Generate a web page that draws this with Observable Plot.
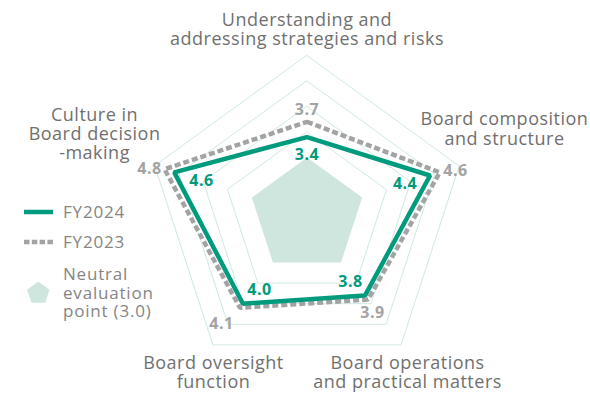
<!DOCTYPE html>
<html><head><meta charset="utf-8">
<script src="https://cdn.jsdelivr.net/npm/d3@7"></script>
<script src="https://cdn.jsdelivr.net/npm/@observablehq/plot@0.6"></script>
<style>
body{margin:0;background:#fff;}
#chart{position:relative;width:590px;height:395px;font-family:"Open Sans",sans-serif;}
#chart svg{display:block;}
#legend{position:absolute;left:0;top:0;pointer-events:none;}
</style></head><body><div id="chart"></div>
<script>
// ---- data ----
const categories = [
  "Understanding and\naddressing strategies and risks",
  "Board composition\nand structure",
  "Board operations\nand practical matters",
  "Board oversight\nfunction",
  "Culture in\nBoard decision\n-making"
];
const fy2024 = [3.4, 4.4, 3.8, 4.0, 4.6];
const fy2023 = [3.7, 4.6, 3.9, 4.1, 4.8];
const neutralValue = 3.0;
const gridLevels = [3.5, 4.0, 4.5, 5.0];
const seriesNames = ["FY2024", "FY2023"];
const neutralLabel = ["Neutral", "evaluation", "point (3.0)"];

// ---- layout (pixels) ----
const W = 590, H = 395, cx = 306.5, cy = 215, pxPerUnit = 51, base = 1.863;
const green = "#009b7d", gray = "#a3a3a3", gridColor = "#cfe9e1", neutralFill = "#cfe6de";
const catLabelOffset = [[0,-26.5],[45.3,-37.1],[6.5,27.1],[0.5,27.1],[-60.3,-32.3]];
const off2024 = [[0,17.4],[-25,8],[-14.6,-14],[16.6,-14.2],[27.3,9]];
const off2023 = [[0,-12.3],[15.7,-1],[4.4,13],[-18.4,15.7],[-15,-0.7]];

const ang = i => -Math.PI/2 + i*2*Math.PI/5;
const pt = (v, i) => ({x: (v - base)*Math.cos(ang(i)), y: -(v - base)*Math.sin(ang(i))});
const shift = (p, o) => ({x: p.x + o[0]/pxPerUnit, y: p.y - o[1]/pxPerUnit});

const grid = gridLevels.flatMap(l => categories.map((c, i) => ({level: l, ...pt(l, i)})));
const neutral = categories.map((c, i) => pt(neutralValue, i));
const s24 = fy2024.map((v, i) => ({v, ...pt(v, i)}));
const s23 = fy2023.map((v, i) => ({v, ...pt(v, i)}));
const lab24 = fy2024.map((v, i) => ({t: v.toFixed(1), ...shift(pt(v, i), off2024[i])}));
const lab23 = fy2023.map((v, i) => ({t: v.toFixed(1), ...shift(pt(v, i), off2023[i])}));
const catLabs = categories.map((c, i) => ({t: c, ...shift(pt(5, i), catLabelOffset[i])}));

const chart = Plot.plot({
  width: W, height: H,
  margin: 0,
  style: {fontFamily: "'Open Sans', sans-serif", background: "#fff"},
  x: {axis: null, domain: [-cx/pxPerUnit, (W - cx)/pxPerUnit]},
  y: {axis: null, domain: [-(H - cy)/pxPerUnit, cy/pxPerUnit]},
  marks: [
    Plot.line(neutral, {x: "x", y: "y", curve: "linear-closed", fill: neutralFill, stroke: "none"}),
    Plot.line(grid, {x: "x", y: "y", z: "level", curve: "linear-closed", stroke: gridColor, strokeWidth: 1}),
    Plot.line(s23, {x: "x", y: "y", curve: "linear-closed", stroke: gray, strokeWidth: 4.5, strokeDasharray: "6,3", strokeLinecap: "butt", strokeLinejoin: "miter"}),
    Plot.line(s24, {x: "x", y: "y", curve: "linear-closed", stroke: green, strokeWidth: 4.5, strokeLinecap: "butt", strokeLinejoin: "miter"}),
    Plot.text(lab23, {x: "x", y: "y", text: "t", fill: gray, fontSize: 16, fontWeight: 700, style: "letter-spacing:0.4px"}),
    Plot.text(lab24, {x: "x", y: "y", text: "t", fill: green, fontSize: 16, fontWeight: 700, style: "letter-spacing:0.4px"}),
    Plot.text(catLabs, {x: "x", y: "y", text: "t", fill: "#707070", fontSize: 18, lineHeight: 1.08, lineAnchor: "middle", textAnchor: "middle"})
  ]
});
d3.select(chart).selectAll("text").style("letter-spacing", "0.5px");
const root = document.getElementById("chart");
root.appendChild(chart);

// ---- legend ----
const leg = d3.select(root).append("svg").attr("id", "legend").attr("width", 200).attr("height", 340)
  .style("font-family", "'Open Sans', sans-serif").style("letter-spacing", "0.8px");
leg.append("line").attr("x1", 24).attr("x2", 53).attr("y1", 212).attr("y2", 212)
  .attr("stroke", green).attr("stroke-width", 4.5);
leg.append("text").attr("x", 63).attr("y", 218).attr("font-size", 17).attr("fill", "#858585").text(seriesNames[0]);
leg.append("line").attr("x1", 24).attr("x2", 53).attr("y1", 242).attr("y2", 242)
  .attr("stroke", gray).attr("stroke-width", 4.5).attr("stroke-dasharray", "5.5,2.3");
leg.append("text").attr("x", 63).attr("y", 248).attr("font-size", 17).attr("fill", "#858585").text(seriesNames[1]);
const R = 11.8, pcx = 38.3, pcy = 293.3;
leg.append("polygon").attr("fill", neutralFill)
  .attr("points", d3.range(5).map(i => [pcx + R*Math.cos(ang(i)), pcy + R*Math.sin(ang(i))].join(",")).join(" "));
neutralLabel.forEach((s, i) => leg.append("text").attr("x", 63).attr("y", 280 + i*18.5)
  .attr("font-size", 17).attr("fill", "#858585").text(s));
</script></body></html>
